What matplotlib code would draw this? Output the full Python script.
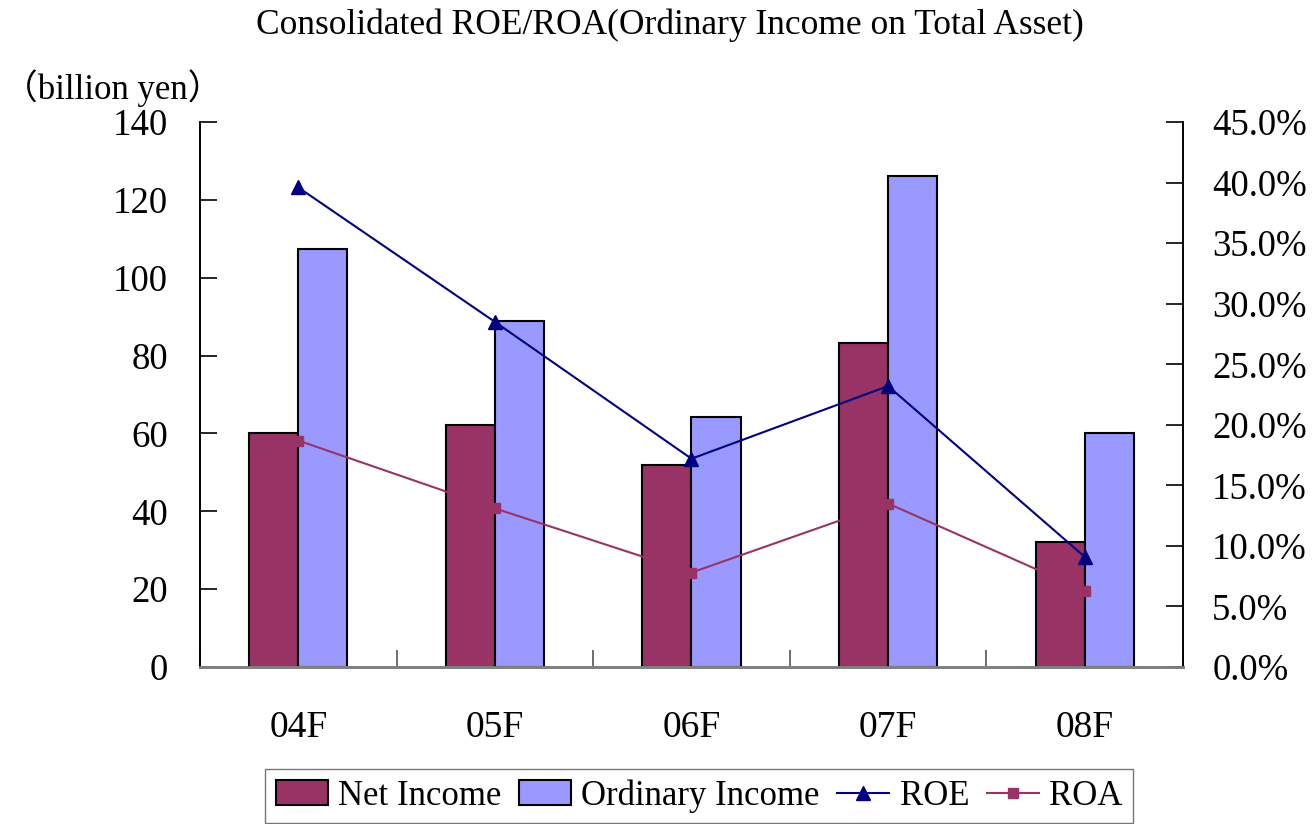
import matplotlib
matplotlib.use('Agg')
import matplotlib.pyplot as plt
import numpy as np
from matplotlib.ticker import FuncFormatter

plt.rcParams['font.family'] = ['Liberation Serif', 'Noto Sans CJK JP']

years = ['04F', '05F', '06F', '07F', '08F']
net_income = [60.0, 62.3, 51.8, 83.2, 32.2]
ordinary_income = [107.4, 88.9, 64.2, 126.1, 60.0]
roe = [39.6, 28.5, 17.2, 23.2, 9.1]
roa = [18.7, 13.1, 7.8, 13.5, 6.3]

fig = plt.figure(figsize=(13.14, 8.24), dpi=100)
ax1 = fig.add_axes([0.1522, 0.1905, 0.7481, 0.6614])
ax2 = ax1.twinx()

x = np.arange(len(years))
w = 0.25
b1 = ax1.bar(x - w/2, net_income, w, color='#993366', edgecolor='black', lw=1.5, label='Net Income', zorder=2)
b2 = ax1.bar(x + w/2, ordinary_income, w, color='#9999FF', edgecolor='black', lw=1.5, label='Ordinary Income', zorder=2)

l1, = ax2.plot(x, roe, color='#000080', lw=1.5, marker='^', ms=10, label='ROE')
l2, = ax2.plot(x, roa, color='#993366', lw=1.5, marker='s', ms=6.5, label='ROA')

ax1.set_xlim(-0.5, 4.5)
ax1.set_ylim(0, 140)
ax1.set_yticks(np.arange(0, 141, 20))
ax2.set_ylim(0, 45)
ax2.set_yticks(np.arange(0, 46, 5))
ax2.yaxis.set_major_formatter(FuncFormatter(lambda v, p: '%.1f%%' % v))

ax1.set_xticks(x)
ax1.set_xticklabels(years)
ax1.set_xticks(np.arange(-0.5, 4.6, 1), minor=True)
ax1.tick_params(axis='x', which='major', length=0, pad=31, labelsize=27)
ax1.tick_params(axis='x', which='minor', direction='in', length=12, width=1.2, color='#555555')
ax1.tick_params(axis='y', direction='in', length=12, width=1.2, labelsize=26.5, pad=23)
ax2.tick_params(axis='y', direction='in', length=12, width=1.2, labelsize=26.5, pad=21)

for a in (ax1, ax2):
    a.spines['top'].set_visible(False)
    a.spines['bottom'].set_color('#808080')
    a.spines['bottom'].set_linewidth(2)
    a.spines['left'].set_linewidth(1.2)
    a.spines['right'].set_linewidth(1.2)

fig.text(0.510, 0.969, 'Consolidated ROE/ROA(Ordinary Income on Total Asset)',
         ha='center', va='center', fontsize=25.5)
fig.text(0.002, 0.893, '（billion yen）', ha='left', va='center', fontsize=25,
         family=['Liberation Serif', 'Noto Sans CJK JP'])

fig.legend([b1, b2, l1, l2], ['Net Income', 'Ordinary Income', 'ROE', 'ROA'],
           loc='upper center', bbox_to_anchor=(0.532, 0.067), ncol=4,
           fontsize=25, frameon=True, fancybox=False, edgecolor='#555555',
           handlelength=1.5, handletextpad=0.3, columnspacing=0.5,
           borderpad=0.3, borderaxespad=0)

fig.savefig('out.png', dpi=100)
